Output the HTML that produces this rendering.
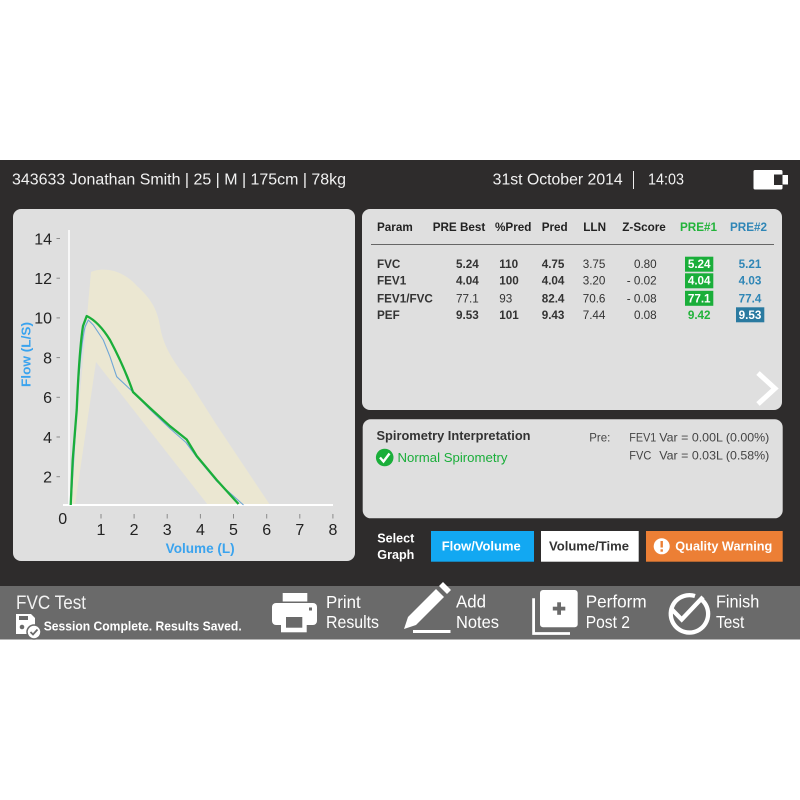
<!DOCTYPE html>
<html><head><meta charset="utf-8"><style>
html,body{margin:0;padding:0;background:#fff;}
svg{display:block;}
text{font-family:"Liberation Sans",Arial,sans-serif;}
</style></head><body>
<svg width="800" height="800" viewBox="0 0 800 800" xmlns="http://www.w3.org/2000/svg">
<rect x="0" y="0" width="800" height="800" fill="#fff"/>
<!-- dark main -->
<rect x="0" y="160" width="800" height="426" fill="#2e2c2c"/>
<!-- header -->
<text x="12" y="184.5" font-size="15.5" fill="#f2f2f2" textLength="334" lengthAdjust="spacingAndGlyphs">343633  Jonathan Smith | 25 | M | 175cm | 78kg</text>
<text x="492.7" y="184.5" font-size="15.5" fill="#f2f2f2" textLength="130" lengthAdjust="spacingAndGlyphs">31st October 2014</text>
<line x1="633.5" y1="171" x2="633.5" y2="189" stroke="#eee" stroke-width="1"/>
<text x="648" y="184.5" font-size="15.5" fill="#f2f2f2" textLength="36" lengthAdjust="spacingAndGlyphs">14:03</text>
<rect x="753.5" y="170" width="29" height="19.5" rx="1.5" fill="#fff"/>
<rect x="774" y="174.5" width="8.5" height="10.5" fill="#2e2c2c"/>
<rect x="782.5" y="175" width="5.5" height="9.5" fill="#fff"/>

<!-- left chart panel -->
<rect x="13" y="209" width="342" height="352" rx="8" fill="#dfdfdf"/>
<!-- band -->
<path d="M70,505 L91,272 C100,268 120,267 137,286 C150,298 157,308 160,326 C163,345 172,360 188,380 L216,424 Q240,460 270,505 L208,505 L96,362 L75,505 Z" fill="#ebe7d2"/>
<!-- axes -->
<line x1="69" y1="230" x2="69" y2="505" stroke="#fff" stroke-width="1.5"/>
<line x1="63" y1="505" x2="333" y2="505" stroke="#fff" stroke-width="2"/>
<g stroke="#8a8a8a" stroke-width="1">
<line x1="56.5" y1="238.5" x2="60" y2="238.5"/>
<line x1="56.5" y1="278.2" x2="60" y2="278.2"/>
<line x1="56.5" y1="317.9" x2="60" y2="317.9"/>
<line x1="56.5" y1="357.6" x2="60" y2="357.6"/>
<line x1="56.5" y1="397.3" x2="60" y2="397.3"/>
<line x1="56.5" y1="437" x2="60" y2="437"/>
<line x1="56.5" y1="476.7" x2="60" y2="476.7"/>
<line x1="101" y1="514" x2="101" y2="518.5"/>
<line x1="134.1" y1="514" x2="134.1" y2="518.5"/>
<line x1="167.2" y1="514" x2="167.2" y2="518.5"/>
<line x1="200.4" y1="514" x2="200.4" y2="518.5"/>
<line x1="233.5" y1="514" x2="233.5" y2="518.5"/>
<line x1="266.7" y1="514" x2="266.7" y2="518.5"/>
<line x1="299.8" y1="514" x2="299.8" y2="518.5"/>
<line x1="332.9" y1="514" x2="332.9" y2="518.5"/>
</g>
<g font-size="16" fill="#222" text-anchor="end">
<text x="52" y="244.3">14</text>
<text x="52" y="284">12</text>
<text x="52" y="323.7">10</text>
<text x="52" y="363.4">8</text>
<text x="52" y="403.1">6</text>
<text x="52" y="442.8">4</text>
<text x="52" y="482.5">2</text>
</g>
<g font-size="16" fill="#222" text-anchor="middle">
<text x="62.7" y="524">0</text>
<text x="101" y="535">1</text>
<text x="134.1" y="535">2</text>
<text x="167.2" y="535">3</text>
<text x="200.4" y="535">4</text>
<text x="233.5" y="535">5</text>
<text x="266.7" y="535">6</text>
<text x="299.8" y="535">7</text>
<text x="332.9" y="535">8</text>
</g>
<text transform="translate(30.5,387) rotate(-90)" font-size="13" font-weight="bold" fill="#3aa3ee" textLength="65" lengthAdjust="spacingAndGlyphs">Flow (L/S)</text>
<text x="165.7" y="553" font-size="13.5" font-weight="bold" fill="#3aa3ee" textLength="69" lengthAdjust="spacingAndGlyphs">Volume (L)</text>
<!-- blue curve -->
<path d="M71,505 L76.7,410 C79,370 82,340 85,327 L88.3,320 L93.3,325 L103.3,340 L110,356.7 L116.7,376.7 L133,392 L150,409.5 L170,428.5 L186,442.5 L197,457.5 L217,481.5 L243.5,505" fill="none" stroke="#6fa6d6" stroke-width="1.1" stroke-linejoin="round"/>
<!-- green curve -->
<path d="M70.7,505 L72.7,460 L76.7,410 C78,380 80,345 83,326 L86.7,316 C95,320 102,327 110,340 C118,355 127,375 133,392 L150,408 L170,426.2 L186.7,439.5 L196.7,456 L216.7,480 L238.5,504" fill="none" stroke="#1aae3a" stroke-width="2.3" stroke-linejoin="round"/>

<!-- table panel -->
<rect x="362" y="209" width="420" height="201" rx="8" fill="#dfdfdf"/>
<g font-size="11.7" font-weight="bold" fill="#222">
<text x="377" y="231">Param</text>
<text x="432.7" y="231">PRE Best</text>
<text x="495" y="231">%Pred</text>
<text x="541.7" y="231">Pred</text>
<text x="583.3" y="231">LLN</text>
<text x="622.3" y="231">Z-Score</text>
<text x="680" y="231" fill="#22b33a">PRE#1</text>
<text x="730" y="231" fill="#2f86b6">PRE#2</text>
</g>
<line x1="371" y1="244.5" x2="774" y2="244.5" stroke="#666" stroke-width="1"/>
<g font-size="11.7" fill="#333">
<text x="377" y="268" font-weight="bold">FVC</text>
<text x="377" y="284.7" font-weight="bold">FEV1</text>
<text x="377" y="302.3" font-weight="bold">FEV1/FVC</text>
<text x="377" y="319" font-weight="bold">PEF</text>
<text x="456" y="268" font-weight="bold">5.24</text>
<text x="456" y="284.7" font-weight="bold">4.04</text>
<text x="456" y="302.3">77.1</text>
<text x="456" y="319" font-weight="bold">9.53</text>
<text x="499.3" y="268" font-weight="bold">110</text>
<text x="499.3" y="284.7" font-weight="bold">100</text>
<text x="499.3" y="302.3">93</text>
<text x="499.3" y="319" font-weight="bold">101</text>
<text x="541.7" y="268" font-weight="bold">4.75</text>
<text x="541.7" y="284.7" font-weight="bold">4.04</text>
<text x="541.7" y="302.3" font-weight="bold">82.4</text>
<text x="541.7" y="319" font-weight="bold">9.43</text>
<text x="582.7" y="268">3.75</text>
<text x="582.7" y="284.7">3.20</text>
<text x="582.7" y="302.3">70.6</text>
<text x="582.7" y="319">7.44</text>
<g text-anchor="end">
<text x="656.7" y="268">0.80</text>
<text x="656.7" y="284.7">- 0.02</text>
<text x="656.7" y="302.3">- 0.08</text>
<text x="656.7" y="319">0.08</text>
</g>
</g>
<rect x="685" y="256.7" width="28.3" height="15" fill="#1aae3a"/>
<rect x="685" y="273.3" width="28.3" height="15" fill="#1aae3a"/>
<rect x="685" y="290.8" width="28.3" height="15" fill="#1aae3a"/>
<rect x="736" y="307.3" width="28.3" height="15" fill="#2a7aa0"/>
<g font-size="11.7" font-weight="bold" text-anchor="middle">
<text x="699.2" y="268" fill="#fff">5.24</text>
<text x="699.2" y="284.7" fill="#fff">4.04</text>
<text x="699.2" y="302.3" fill="#fff">77.1</text>
<text x="699.2" y="319" fill="#22b33a">9.42</text>
<text x="750" y="268" fill="#2f86b6">5.21</text>
<text x="750" y="284.7" fill="#2f86b6">4.03</text>
<text x="750" y="302.3" fill="#2f86b6">77.4</text>
<text x="750" y="319" fill="#fff">9.53</text>
</g>
<polyline points="758,373 775,388.5 758,404" fill="none" stroke="#fff" stroke-width="5"/>

<!-- interpretation panel -->
<rect x="362.7" y="419.3" width="420" height="99" rx="8" fill="#dfdfdf"/>
<text x="376.5" y="440" font-size="13" font-weight="bold" fill="#333" textLength="154" lengthAdjust="spacingAndGlyphs">Spirometry Interpretation</text>
<circle cx="384.7" cy="457.5" r="8.8" fill="#1aae3a"/>
<polyline points="380,457.5 383.5,461.5 389.5,453.5" fill="none" stroke="#fff" stroke-width="2.4"/>
<text x="397.5" y="462" font-size="13" fill="#1aae3a" textLength="110" lengthAdjust="spacingAndGlyphs">Normal Spirometry</text>
<text x="589.3" y="441.5" font-size="12" fill="#444" textLength="21" lengthAdjust="spacingAndGlyphs">Pre:</text>
<text x="629.3" y="441.5" font-size="12" fill="#444" textLength="27" lengthAdjust="spacingAndGlyphs">FEV1</text>
<text x="659.3" y="441.5" font-size="12" fill="#444" textLength="110" lengthAdjust="spacingAndGlyphs">Var = 0.00L (0.00%)</text>
<text x="629.3" y="459.5" font-size="12" fill="#444" textLength="22" lengthAdjust="spacingAndGlyphs">FVC</text>
<text x="659.3" y="459.5" font-size="12" fill="#444" textLength="110" lengthAdjust="spacingAndGlyphs">Var = 0.03L (0.58%)</text>

<!-- select graph -->
<text x="377.3" y="542.7" font-size="13" font-weight="bold" fill="#fff" textLength="37" lengthAdjust="spacingAndGlyphs">Select</text>
<text x="377.3" y="559" font-size="13" font-weight="bold" fill="#fff" textLength="37" lengthAdjust="spacingAndGlyphs">Graph</text>
<rect x="431" y="531" width="103" height="30.7" fill="#12a8f2"/>
<text x="441.7" y="550.5" font-size="13" font-weight="bold" fill="#fff" textLength="79" lengthAdjust="spacingAndGlyphs">Flow/Volume</text>
<rect x="541" y="531" width="97.7" height="30.7" fill="#fff"/>
<text x="549" y="550.5" font-size="13" font-weight="bold" fill="#333" textLength="80" lengthAdjust="spacingAndGlyphs">Volume/Time</text>
<rect x="646" y="531" width="136.7" height="30.7" fill="#ec7f35"/>
<circle cx="661.7" cy="546.3" r="8" fill="#fff"/>
<rect x="660.5" y="541" width="2.4" height="6.5" fill="#ec7f35"/>
<rect x="660.5" y="549.3" width="2.4" height="2.4" fill="#ec7f35"/>
<text x="675.3" y="550.5" font-size="13" font-weight="bold" fill="#fff" textLength="97" lengthAdjust="spacingAndGlyphs">Quality Warning</text>

<!-- bottom bar -->
<rect x="0" y="586" width="800" height="53.5" fill="#6a6a6a"/>
<text x="16" y="609" font-size="19" fill="#f2f2f2" textLength="70" lengthAdjust="spacingAndGlyphs">FVC Test</text>
<!-- save icon -->
<path d="M16,614 L31,614 L35,618 L35,628 L29,634 L16,634 Z" fill="#fff"/>
<rect x="19" y="616" width="9" height="4" fill="#6a6a6a"/>
<circle cx="22" cy="627" r="2.3" fill="#6a6a6a"/>
<circle cx="34" cy="632" r="7" fill="#fff" stroke="#6a6a6a" stroke-width="1.5"/>
<polyline points="30.5,632 33,634.5 37.5,629.5" fill="none" stroke="#6a6a6a" stroke-width="1.8"/>
<text x="43.7" y="630.5" font-size="13" font-weight="bold" fill="#fff" textLength="198" lengthAdjust="spacingAndGlyphs">Session Complete. Results Saved.</text>
<!-- printer -->
<rect x="282.7" y="593" width="24.6" height="8.5" fill="#fff"/>
<rect x="272" y="603" width="45" height="22" rx="4" fill="#fff"/>
<rect x="281" y="614" width="25.7" height="18.3" fill="#fff"/>
<rect x="286" y="617" width="16.3" height="10.7" fill="#6a6a6a"/>
<rect x="309" y="607.5" width="3" height="3" fill="#6a6a6a"/>
<text x="326" y="608" font-size="17.5" fill="#fff" textLength="34.7" lengthAdjust="spacingAndGlyphs">Print</text>
<text x="326" y="628" font-size="17.5" fill="#fff" textLength="53" lengthAdjust="spacingAndGlyphs">Results</text>
<!-- pencil -->
<polygon points="404,629 408,617 436,589 444,597 416,625" fill="#fff"/>
<polygon points="439,586 443,582 451,590 447,594" fill="#fff"/>
<rect x="413" y="630" width="37.5" height="3" fill="#fff"/>
<text x="456" y="607.5" font-size="17.5" fill="#fff" textLength="30" lengthAdjust="spacingAndGlyphs">Add</text>
<text x="456" y="628" font-size="17.5" fill="#fff" textLength="43" lengthAdjust="spacingAndGlyphs">Notes</text>
<!-- perform -->
<rect x="540" y="590" width="37.7" height="37.3" rx="3" fill="#fff"/>
<rect x="552.8" y="606.7" width="12.5" height="3.8" fill="#6a6a6a"/>
<rect x="557.2" y="602.3" width="3.8" height="12.5" fill="#6a6a6a"/>
<path d="M533.6,598.3 L533.6,633.5 L570,633.5" fill="none" stroke="#fff" stroke-width="2.8"/>
<text x="585.7" y="607.5" font-size="17.5" fill="#fff" textLength="61" lengthAdjust="spacingAndGlyphs">Perform</text>
<text x="585.7" y="628" font-size="17.5" fill="#fff" textLength="44.3" lengthAdjust="spacingAndGlyphs">Post 2</text>
<!-- finish -->
<path d="M702,600 A18.7,18.7 0 1 1 695,596" fill="none" stroke="#fff" stroke-width="4.3"/>
<polyline points="672,609.5 681.7,619.5 703,597" fill="none" stroke="#fff" stroke-width="4.3"/>
<text x="716" y="607.5" font-size="17.5" fill="#fff" textLength="43.3" lengthAdjust="spacingAndGlyphs">Finish</text>
<text x="716" y="628" font-size="17.5" fill="#fff" textLength="28.3" lengthAdjust="spacingAndGlyphs">Test</text>
</svg>
</body></html>
